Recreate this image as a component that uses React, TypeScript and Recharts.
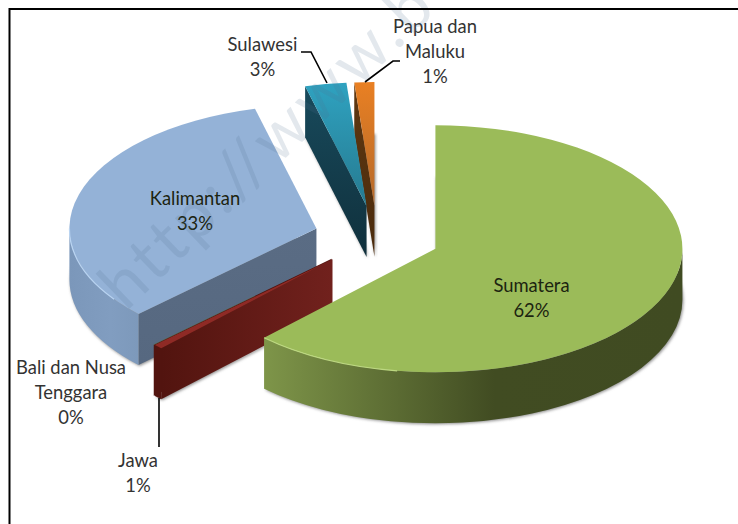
import { PieChart, Pie } from "recharts";

// slices go counter-clockwise from 12 o'clock, so the front ones paint last
const regions = ["Papua dan Maluku", "Sulawesi", "Kalimantan", "Bali dan Nusa Tenggara", "Jawa", "Sumatera"];
const shares = [1.3, 2.7, 33.2, 0.02, 0.58, 62.2];
const data = regions.map((name, i) => ({ name, value: shares[i] }));

const W = 738;
const H = 524;
const YSCALE = 0.5;
const EXPLODE = 0.255;
const DEPTH = 51;
const RAD = Math.PI / 180;

type SliceLook = { top: [string, string]; cut: [string, string]; rim: [string, string, string]; rimStop: number; edge?: string };

const looks: Record<string, SliceLook> = {
  "Papua dan Maluku": { top: ["#e98023", "#b5692a"], cut: ["#5f3811", "#4a2a0c"], rim: ["#8a4e18", "#8a4e18", "#8a4e18"], rimStop: 0.5 },
  Sulawesi: { top: ["#2fa2c0", "#267a90"], cut: ["#184a5c", "#10303c"], rim: ["#184a5c", "#184a5c", "#184a5c"], rimStop: 0.5 },
  Kalimantan: { top: ["#94b2d7", "#94b2d7"], cut: ["#5a6c84", "#566880"], rim: ["#7b97ba", "#819dc0", "#7d99bb"], rimStop: 0.6, edge: "#b9d4f2" },
  "Bali dan Nusa Tenggara": { top: ["#55702c", "#55702c"], cut: ["#52140f", "#52140f"], rim: ["#52140f", "#52140f", "#52140f"], rimStop: 0.5 },
  Jawa: { top: ["#8f2a25", "#8f2a25"], cut: ["#52140f", "#71211d"], rim: ["#52140f", "#52140f", "#52140f"], rimStop: 0.5 },
  Sumatera: { top: ["#9bbb59", "#9bbb59"], cut: ["#404b22", "#404b22"], rim: ["#7e9549", "#414c22", "#404b22"], rimStop: 0.55, edge: "#bcd880" },
};

const labelWraps: Record<string, string[]> = {
  "Papua dan Maluku": ["Papua dan", "Maluku"],
  "Bali dan Nusa Tenggara": ["Bali dan Nusa", "Tenggara"],
};
const labelSpots: Record<string, { x: number; y: number }> = {
  "Papua dan Maluku": { x: 435, y: 33 },
  Sulawesi: { x: 262.5, y: 51 },
  Kalimantan: { x: 195, y: 205 },
  "Bali dan Nusa Tenggara": { x: 71, y: 374 },
  Jawa: { x: 138, y: 467 },
  Sumatera: { x: 531.5, y: 292 },
};
const leaders: Record<string, string> = {
  "Papua dan Maluku": "M400 61 L393 61 L365 82",
  Sulawesi: "M301 52 L311 52 L327 83",
  Jawa: "M159 398 L159 447",
};

const renderSlice = (props: any) => {
  const { cx, cy, startAngle, endAngle, outerRadius: R, index, name } = props;
  const look = looks[name];
  const ry = R * YSCALE;
  const lo = Math.min(startAngle, endAngle);
  const hi = Math.max(startAngle, endAngle);
  const mid = ((lo + hi) / 2) * RAD;
  const ox = cx + EXPLODE * R * Math.cos(mid);
  const oy = cy - EXPLODE * ry * Math.sin(mid);
  const pt = (deg: number, drop = 0) => ({
    x: ox + R * Math.cos(deg * RAD),
    y: oy - ry * Math.sin(deg * RAD) + drop,
  });
  const a = pt(lo);
  const b = pt(hi);
  const large = hi - lo > 180 ? 1 : 0;
  const topPath = `M${ox} ${oy} L${a.x} ${a.y} A${R} ${ry} 0 ${large} 0 ${b.x} ${b.y} Z`;

  // a cut wall only shows if the slice lies above it on screen
  const cutFaces = (deg: number, inside: number) => {
    const ex = Math.cos(deg * RAD);
    const ey = -YSCALE * Math.sin(deg * RAD);
    const ix = Math.cos(inside * RAD);
    const iy = -YSCALE * Math.sin(inside * RAD);
    const cross = ex * iy - ey * ix;
    return Math.abs(ex) > 0.001 && Math.sign(cross) !== Math.sign(ex);
  };
  const nudge = Math.min(0.5, (hi - lo) / 4);
  const cuts = [
    { deg: lo, show: cutFaces(lo, lo + nudge) },
    { deg: hi, show: cutFaces(hi, hi - nudge) },
  ].filter((c) => c.show);

  // rim is the lower half of the ellipse only
  const r0 = Math.max(lo, 180);
  const r1 = Math.min(hi, 360);
  let rimPath = "";
  let edgePath = "";
  if (r1 > r0) {
    const p0 = pt(r0);
    const p1 = pt(r1);
    const q0 = pt(r0, DEPTH);
    const q1 = pt(r1, DEPTH);
    rimPath = `M${p0.x} ${p0.y} A${R} ${ry} 0 0 0 ${p1.x} ${p1.y} L${q1.x} ${q1.y} A${R} ${ry} 0 0 1 ${q0.x} ${q0.y} Z`;
    edgePath = `M${p0.x} ${p0.y} A${R} ${ry} 0 0 0 ${pt(Math.min(r1, r0 + 35)).x} ${pt(Math.min(r1, r0 + 35)).y}`;
  }

  return (
    <g key={name}>
      <defs>
        <linearGradient id={`top${index}`} x1="0" y1="0" x2="0" y2="1">
          <stop offset="0" stopColor={look.top[0]} />
          <stop offset="1" stopColor={look.top[1]} />
        </linearGradient>
        <linearGradient id={`cut${index}`} x1="0" y1="0" x2={name === "Jawa" ? "1" : "0"} y2={name === "Jawa" ? "0" : "1"}>
          <stop offset="0" stopColor={look.cut[0]} />
          <stop offset="1" stopColor={look.cut[1]} />
        </linearGradient>
        <linearGradient id={`rim${index}`} x1="0" y1="0" x2="1" y2="0">
          <stop offset="0" stopColor={look.rim[0]} />
          <stop offset={look.rimStop} stopColor={look.rim[1]} />
          <stop offset="1" stopColor={look.rim[2]} />
        </linearGradient>
      </defs>
      <path d={topPath} transform={`translate(1 ${DEPTH + 1})`} fill="#8d8d8d" filter="url(#sliceShadow)" />
      {cuts.map((c) => {
        const p = pt(c.deg);
        const q = pt(c.deg, DEPTH);
        return <path key={c.deg} d={`M${ox} ${oy} L${p.x} ${p.y} L${q.x} ${q.y} L${ox} ${oy + DEPTH} Z`} fill={`url(#cut${index})`} />;
      })}
      {rimPath && <path d={rimPath} fill={`url(#rim${index})`} />}
      <path d={topPath} fill={`url(#top${index})`} />
      {look.edge && edgePath && <path d={edgePath} fill="none" stroke={look.edge} strokeWidth={1.2} />}
    </g>
  );
};

const renderLabel = (props: any) => {
  const { name, percent } = props;
  const spot = labelSpots[name];
  const lines = [...(labelWraps[name] ?? [name]), `${Math.round(percent * 100)}%`];
  const inside = name === "Kalimantan" || name === "Sumatera";
  return (
    <g key={name}>
      {leaders[name] && <path d={leaders[name]} fill="none" stroke="#000" strokeWidth={1.6} />}
      <text x={spot.x} y={spot.y} textAnchor="middle" fontFamily="Lato, sans-serif" fontSize={18.4} fill={inside ? "#1c2410" : "#333333"}>
        {lines.map((line, i) => (
          <tspan key={i} x={spot.x} dy={i === 0 ? 0 : 24.8}>
            {line}
          </tspan>
        ))}
      </text>
    </g>
  );
};

export default function App() {
  return (
    <div style={{ position: "absolute", left: 0, top: 0, width: W, height: H, background: "#fff", overflow: "hidden" }}>
      <PieChart width={W} height={H} margin={{ top: 0, right: 0, bottom: 0, left: 0 }}>
        <defs>
          <filter id="sliceShadow" x="-10%" y="-10%" width="120%" height="120%">
            <feGaussianBlur stdDeviation="1.6" />
          </filter>
        </defs>
        <Pie
          data={data}
          dataKey="value"
          nameKey="name"
          cx={377}
          cy={237}
          innerRadius={0}
          outerRadius={247}
          startAngle={90}
          endAngle={450}
          stroke="none"
          shape={renderSlice}
          label={renderLabel}
          labelLine={false}
          isAnimationActive={false}
        />
      </PieChart>
      <svg width={W} height={H} style={{ position: "absolute", left: 0, top: 0, pointerEvents: "none" }}>
        <text
          x={126}
          y={312}
          transform="rotate(-44 126 312)"
          fontFamily="Lato, sans-serif"
          fontSize={66}
          letterSpacing={4}
          fill="#4f6f8f"
          fillOpacity={0.16}
        >
          http://www.b
        </text>
        <path d="M9.5 524 L9.5 9 L738 9" fill="none" stroke="#000" strokeWidth={2} />
      </svg>
    </div>
  );
}
